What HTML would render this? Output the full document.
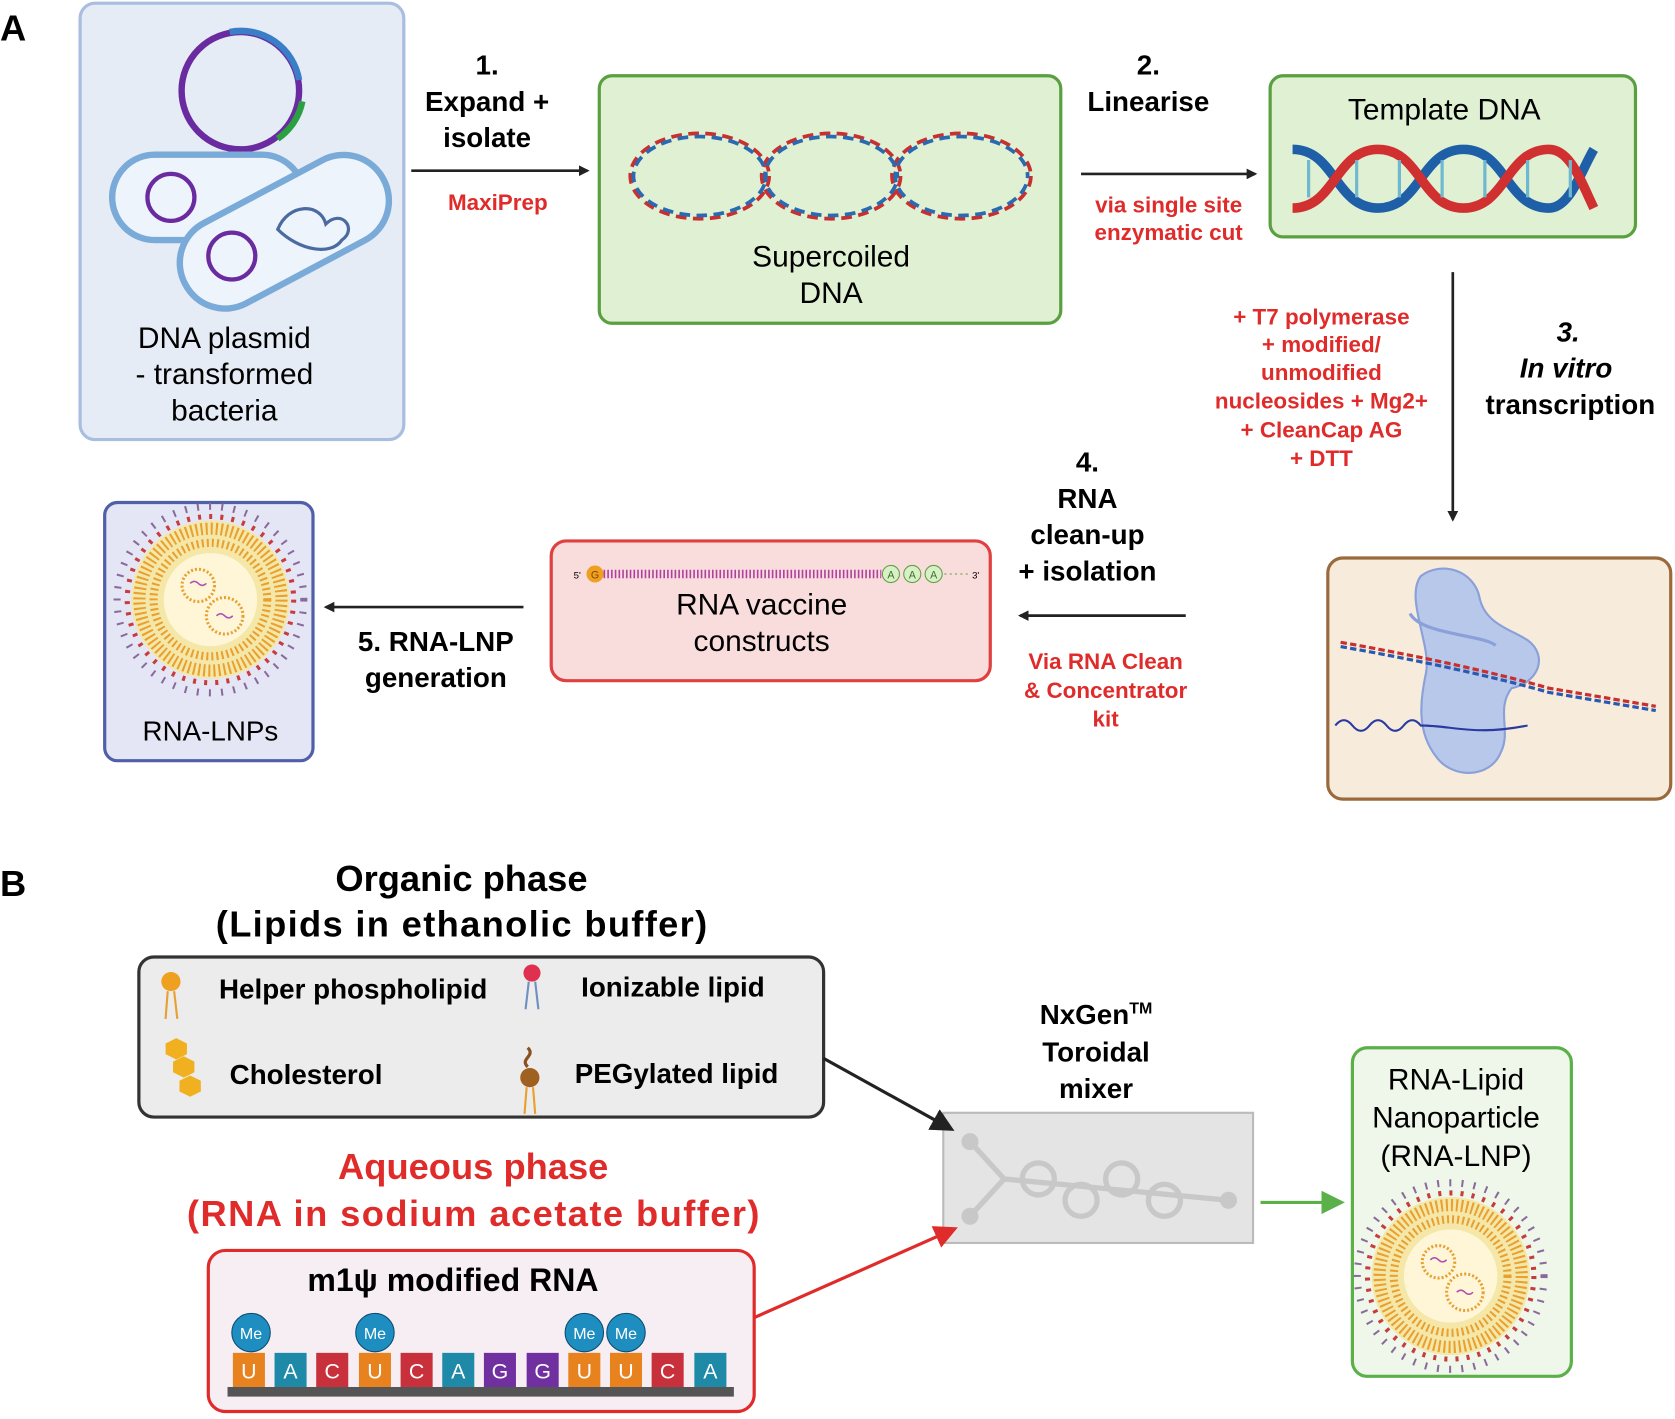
<!DOCTYPE html>
<html><head><meta charset="utf-8"><style>html,body{margin:0;padding:0;background:#fff}svg{display:block}text{font-family:"Liberation Sans",sans-serif}</style></head><body>
<svg width="1675" height="1419" viewBox="0 0 1568 1330" preserveAspectRatio="none" xmlns="http://www.w3.org/2000/svg">
<defs>
<marker id="ab" markerWidth="10" markerHeight="10" refX="8" refY="5" orient="auto" markerUnits="userSpaceOnUse"><path d="M0,0 L10,5 L0,10 z" fill="#222"/></marker>
<marker id="ab2" markerWidth="22" markerHeight="22" refX="18" refY="11" orient="auto" markerUnits="userSpaceOnUse"><path d="M0,0 L22,11 L0,22 z" fill="#222"/></marker>
<marker id="ar" markerWidth="22" markerHeight="22" refX="18" refY="11" orient="auto" markerUnits="userSpaceOnUse"><path d="M0,0 L22,11 L0,22 z" fill="#e02b2b"/></marker>
<marker id="ag" markerWidth="22" markerHeight="22" refX="18" refY="11" orient="auto" markerUnits="userSpaceOnUse"><path d="M0,0 L22,11 L0,22 z" fill="#5bb04a"/></marker>
<g id="lnp">
<circle r="78" fill="#f5e7a8"/>
<circle r="70" fill="none" stroke="#e8a030" stroke-width="12" stroke-dasharray="2 3"/>
<circle r="82" fill="none" stroke="#c83c3c" stroke-width="5" stroke-dasharray="3 8"/>
<circle r="56" fill="none" stroke="#e8a030" stroke-width="8" stroke-dasharray="2 3"/>
<circle r="46" fill="#fff6d8"/>
<circle cx="-12" cy="-14" r="16" fill="none" stroke="#e8a030" stroke-width="3" stroke-dasharray="2 2"/>
<circle cx="14" cy="16" r="18" fill="none" stroke="#e8a030" stroke-width="3" stroke-dasharray="2 2"/>
<path d="M-20,-16 q4,-4 8,0 q4,4 8,0 M6,16 q4,-4 8,0 q4,4 8,0" stroke="#b050b0" fill="none" stroke-width="1.5"/>
<circle r="92" fill="none" stroke="#8a6a9a" stroke-width="7" stroke-dasharray="2 10"/>
</g>
</defs>

<text x="0" y="38" font-size="34" font-weight="bold">A</text>
<text x="0" y="840" font-size="34" font-weight="bold">B</text>

<rect x="75" y="3" width="303" height="409" rx="14" fill="#e6ecf5" stroke="#a9bde0" stroke-width="3"/>
<circle cx="225" cy="85" r="55" fill="none" stroke="#6a2aa0" stroke-width="6"/>
<path d="M215,30 A55,55 0 0 1 280,75" fill="none" stroke="#3a7ec8" stroke-width="6"/>
<path d="M283,95 A55,55 0 0 1 260,130" fill="none" stroke="#2aa040" stroke-width="6"/>
<rect x="105" y="145" width="180" height="80" rx="40" fill="#eef4fb" stroke="#7aaad8" stroke-width="6"/>
<circle cx="160" cy="185" r="22" fill="none" stroke="#6a2aa0" stroke-width="4"/>
<g transform="rotate(-28 265 215)">
<rect x="160" y="175" width="210" height="85" rx="42" fill="#eef4fb" stroke="#7aaad8" stroke-width="6"/>
</g>
<circle cx="217" cy="240" r="22" fill="none" stroke="#6a2aa0" stroke-width="4"/>
<path d="M260,215 c10,-25 40,-25 45,-5 c15,-15 30,5 15,15 c-10,15 -40,10 -60,-10z" fill="none" stroke="#4a6aa0" stroke-width="3"/>
<text x="210" y="326" font-size="28" text-anchor="middle">DNA plasmid</text>
<text x="210" y="360" font-size="28" text-anchor="middle">- transformed</text>
<text x="210" y="394" font-size="28" text-anchor="middle">bacteria</text>

<line x1="385" y1="160" x2="550" y2="160" stroke="#222" stroke-width="2.5" marker-end="url(#ab)"/>
<g font-size="26" font-weight="bold" text-anchor="middle">
<text x="456" y="70">1.</text><text x="456" y="104">Expand +</text><text x="456" y="138">isolate</text>
<text x="1075" y="70">2.</text><text x="1075" y="104">Linearise</text>
<text x="1018" y="442">4.</text><text x="1018" y="476">RNA</text><text x="1018" y="510">clean-up</text><text x="1018" y="544">+ isolation</text>
<text x="408" y="610">5. RNA-LNP</text><text x="408" y="644">generation</text>
<text x="1468" y="320" font-style="italic">3.</text><text x="1466" y="354" font-style="italic">In vitro</text><text x="1470" y="388">transcription</text>
</g>
<g font-size="21" font-weight="bold" fill="#e02b2b" text-anchor="middle">
<text x="466" y="197">MaxiPrep</text>
<text x="1094" y="199">via single site</text><text x="1094" y="225">enzymatic cut</text>
<text x="1237" y="304">+ T7 polymerase</text><text x="1237" y="330">+ modified/</text><text x="1237" y="356">unmodified</text><text x="1237" y="383">nucleosides + Mg2+</text><text x="1237" y="410">+ CleanCap AG</text><text x="1237" y="437">+ DTT</text>
<text x="1035" y="627">Via RNA Clean</text><text x="1035" y="654">&amp; Concentrator</text><text x="1035" y="681">kit</text>
</g>

<rect x="561" y="71" width="432" height="232" rx="12" fill="#dff0d3" stroke="#5aa040" stroke-width="3"/>
<g fill="none" stroke-width="3.5">
<ellipse cx="655" cy="165" rx="65" ry="40" stroke="#c83030" stroke-dasharray="10 6"/>
<ellipse cx="778" cy="165" rx="65" ry="40" stroke="#c83030" stroke-dasharray="10 6"/>
<ellipse cx="900" cy="165" rx="65" ry="40" stroke="#c83030" stroke-dasharray="10 6"/>
<ellipse cx="655" cy="165" rx="62" ry="37" stroke="#2a6ab0" stroke-dasharray="10 6" stroke-dashoffset="8"/>
<ellipse cx="778" cy="165" rx="62" ry="37" stroke="#2a6ab0" stroke-dasharray="10 6" stroke-dashoffset="8"/>
<ellipse cx="900" cy="165" rx="62" ry="37" stroke="#2a6ab0" stroke-dasharray="10 6" stroke-dashoffset="8"/>
</g>
<text x="778" y="250" font-size="28" text-anchor="middle">Supercoiled</text>
<text x="778" y="284" font-size="28" text-anchor="middle">DNA</text>

<line x1="1012" y1="163" x2="1175" y2="163" stroke="#222" stroke-width="2.5" marker-end="url(#ab)"/>

<rect x="1189" y="71" width="342" height="151" rx="12" fill="#dff0d3" stroke="#5aa040" stroke-width="3"/>
<text x="1352" y="112" font-size="28" text-anchor="middle">Template DNA</text>
<path d="M1210,140 C1250,140 1250,195 1290,195 C1330,195 1330,140 1370,140 C1410,140 1410,195 1450,195 C1470,195 1480,160 1492,140" fill="none" stroke="#1f5fa8" stroke-width="9"/>
<path d="M1210,195 C1250,195 1250,140 1290,140 C1330,140 1330,195 1370,195 C1410,195 1410,140 1450,140 C1470,140 1480,170 1492,195" fill="none" stroke="#d03030" stroke-width="9"/>
<g stroke="#70b8d0" stroke-width="3"><line x1="1225" y1="150" x2="1225" y2="185"/><line x1="1270" y1="150" x2="1270" y2="185"/><line x1="1310" y1="150" x2="1310" y2="185"/><line x1="1350" y1="150" x2="1350" y2="185"/><line x1="1390" y1="150" x2="1390" y2="185"/><line x1="1430" y1="150" x2="1430" y2="185"/><line x1="1470" y1="150" x2="1470" y2="185"/></g>

<line x1="1360" y1="255" x2="1360" y2="487" stroke="#222" stroke-width="2.5" marker-end="url(#ab)"/>

<rect x="1243" y="523" width="321" height="226" rx="14" fill="#f7ecdc" stroke="#9a6a3c" stroke-width="3"/>
<path d="M1330,540 c20,-15 50,-5 55,20 c5,25 30,30 45,40 c20,15 10,40 -15,45 c-15,20 0,40 -10,60 c-10,25 -45,25 -60,5 c-20,-25 -15,-55 -10,-80 c5,-25 -20,-70 -5,-90z" fill="#b8c8ea" stroke="#8aa0d8" stroke-width="2"/>
<path d="M1320,575 c10,20 70,20 80,30" fill="none" stroke="#8aa0d8" stroke-width="3"/>
<path d="M1255,602 C1300,610 1380,625 1450,645 L1550,662" fill="none" stroke="#c83030" stroke-width="3" stroke-dasharray="6 3"/>
<path d="M1255,606 C1300,614 1380,629 1450,649 L1550,666" fill="none" stroke="#2a5ab0" stroke-width="3" stroke-dasharray="6 3"/>
<path d="M1250,680 q8,-10 16,0 q8,10 16,0 q8,-10 16,0 q8,10 16,0 q8,-10 16,0 C1360,680 1380,690 1430,680" fill="none" stroke="#2a3aa0" stroke-width="2"/>

<line x1="1110" y1="577" x2="955" y2="577" stroke="#222" stroke-width="2.5" marker-end="url(#ab)"/>

<rect x="516" y="507" width="411" height="131" rx="14" fill="#f9dcdc" stroke="#e04040" stroke-width="3"/>
<line x1="565" y1="538" x2="825" y2="538" stroke="#b040a0" stroke-width="8" stroke-dasharray="1.5 2"/>
<circle cx="557" cy="538" r="8" fill="#f0a020"/><text x="557" y="542" font-size="10" text-anchor="middle" fill="#7a4a00">G</text>
<text x="537" y="542" font-size="9">5'</text><text x="910" y="542" font-size="9">3'</text>
<g fill="#d8f0c8" stroke="#60a040"><circle cx="834" cy="538" r="8"/><circle cx="854" cy="538" r="8"/><circle cx="874" cy="538" r="8"/></g>
<g font-size="10" text-anchor="middle" fill="#3a7020"><text x="834" y="542">A</text><text x="854" y="542">A</text><text x="874" y="542">A</text></g>
<line x1="884" y1="538" x2="908" y2="538" stroke="#60a040" stroke-dasharray="2 3"/>
<text x="713" y="576" font-size="28" text-anchor="middle">RNA vaccine</text>
<text x="713" y="610" font-size="28" text-anchor="middle">constructs</text>

<line x1="490" y1="569" x2="305" y2="569" stroke="#222" stroke-width="2.5" marker-end="url(#ab)"/>

<rect x="98" y="471" width="195" height="242" rx="12" fill="#e5e6f5" stroke="#5060a8" stroke-width="3"/>
<use href="#lnp" transform="translate(197,562) scale(0.95)"/>
<text x="197" y="694" font-size="26" text-anchor="middle">RNA-LNPs</text>

<text x="432" y="835" font-size="34" font-weight="bold" text-anchor="middle">Organic phase</text>
<text x="432" y="878" font-size="34" font-weight="bold" text-anchor="middle" textLength="460">(Lipids in ethanolic buffer)</text>
<rect x="130" y="897" width="641" height="150" rx="14" fill="#ececec" stroke="#333" stroke-width="3"/>
<g font-size="26" font-weight="bold">
<text x="205" y="936">Helper phospholipid</text><text x="544" y="934">Ionizable lipid</text>
<text x="215" y="1016">Cholesterol</text><text x="538" y="1015">PEGylated lipid</text>
</g>
<circle cx="160" cy="920" r="9" fill="#f0a020"/><path d="M157,929 l-2,26 M163,929 l3,26" stroke="#e8a030" stroke-width="2"/>
<circle cx="498" cy="912" r="8" fill="#e03050"/><path d="M495,920 l-3,26 M501,920 l3,26" stroke="#7090c0" stroke-width="2"/>
<g fill="#f0b020"><polygon points="155,978 165,973 175,978 175,988 165,993 155,988"/><polygon points="162,995 172,990 182,995 182,1005 172,1010 162,1005"/><polygon points="168,1013 178,1008 188,1013 188,1023 178,1028 168,1023"/></g>
<circle cx="496" cy="1010" r="9" fill="#a06020"/><path d="M494,1000 c-8,-8 8,-10 0,-18" stroke="#8a5020" stroke-width="3" fill="none"/><path d="M493,1019 l-2,25 M499,1019 l2,25" stroke="#e8a030" stroke-width="2"/>

<text x="443" y="1105" font-size="34" font-weight="bold" fill="#e02b2b" text-anchor="middle">Aqueous phase</text>
<text x="443" y="1149" font-size="34" font-weight="bold" fill="#e02b2b" text-anchor="middle" textLength="536">(RNA in sodium acetate buffer)</text>

<rect x="195" y="1172" width="511" height="151" rx="16" fill="#f6eef3" stroke="#e02b2b" stroke-width="3"/>
<text x="424" y="1210" font-size="30" font-weight="bold" text-anchor="middle">m1ψ modified RNA</text>
<rect x="213" y="1300" width="474" height="9" fill="#555"/>
<g font-size="20" text-anchor="middle" fill="#fff">
<g fill="#1e8ec0" stroke="#0a4a70" stroke-width="1"><circle cx="235" cy="1249" r="18"/><circle cx="351" cy="1249" r="18"/><circle cx="547" cy="1249" r="18"/><circle cx="586" cy="1249" r="18"/></g>
<text x="235" y="1255" font-size="15">Me</text><text x="351" y="1255" font-size="15">Me</text><text x="547" y="1255" font-size="15">Me</text><text x="586" y="1255" font-size="15">Me</text>
<rect x="218" y="1268" width="30" height="32" fill="#e8821e"/><text x="233" y="1292">U</text>
<rect x="257" y="1268" width="30" height="32" fill="#1e8aa8"/><text x="272" y="1292">A</text>
<rect x="296" y="1268" width="30" height="32" fill="#c8303c"/><text x="311" y="1292">C</text>
<rect x="336" y="1268" width="30" height="32" fill="#e8821e"/><text x="351" y="1292">U</text>
<rect x="375" y="1268" width="30" height="32" fill="#c8303c"/><text x="390" y="1292">C</text>
<rect x="414" y="1268" width="30" height="32" fill="#1e8aa8"/><text x="429" y="1292">A</text>
<rect x="453" y="1268" width="30" height="32" fill="#7030a0"/><text x="468" y="1292">G</text>
<rect x="493" y="1268" width="30" height="32" fill="#7030a0"/><text x="508" y="1292">G</text>
<rect x="532" y="1268" width="30" height="32" fill="#e8821e"/><text x="547" y="1292">U</text>
<rect x="571" y="1268" width="30" height="32" fill="#e8821e"/><text x="586" y="1292">U</text>
<rect x="610" y="1268" width="30" height="32" fill="#c8303c"/><text x="625" y="1292">C</text>
<rect x="650" y="1268" width="30" height="32" fill="#1e8aa8"/><text x="665" y="1292">A</text>
</g>

<text x="1026" y="960" font-size="26" font-weight="bold" text-anchor="middle">NxGen<tspan font-size="15" dy="-10">TM</tspan></text>
<text x="1026" y="995" font-size="26" font-weight="bold" text-anchor="middle">Toroidal</text>
<text x="1026" y="1029" font-size="26" font-weight="bold" text-anchor="middle">mixer</text>
<rect x="883" y="1043" width="290" height="122" fill="#e4e4e4" stroke="#bbb" stroke-width="2"/>
<g fill="none" stroke="#c8c8c8" stroke-width="5"><path d="M908,1070 L940,1105 L908,1140 M940,1105 L1150,1125"/><circle cx="972" cy="1105" r="15"/><circle cx="1012" cy="1125" r="15"/><circle cx="1050" cy="1105" r="15"/><circle cx="1090" cy="1125" r="15"/></g>
<g fill="#c8c8c8"><circle cx="908" cy="1070" r="8"/><circle cx="908" cy="1140" r="8"/><circle cx="1150" cy="1125" r="8"/></g>

<line x1="771" y1="992" x2="890" y2="1058" stroke="#222" stroke-width="3" marker-end="url(#ab2)"/>
<line x1="706" y1="1235" x2="893" y2="1152" stroke="#e02b2b" stroke-width="3" marker-end="url(#ar)"/>
<line x1="1180" y1="1127" x2="1255" y2="1127" stroke="#5bb04a" stroke-width="3" marker-end="url(#ag)"/>

<rect x="1266" y="982" width="205" height="308" rx="14" fill="#eef7ea" stroke="#5bb04a" stroke-width="3"/>
<g font-size="28" text-anchor="middle"><text x="1363" y="1021">RNA-Lipid</text><text x="1363" y="1057">Nanoparticle</text><text x="1363" y="1093">(RNA-LNP)</text></g>
<use href="#lnp" transform="translate(1358,1196) scale(0.95)"/>
</svg>
</body></html>
